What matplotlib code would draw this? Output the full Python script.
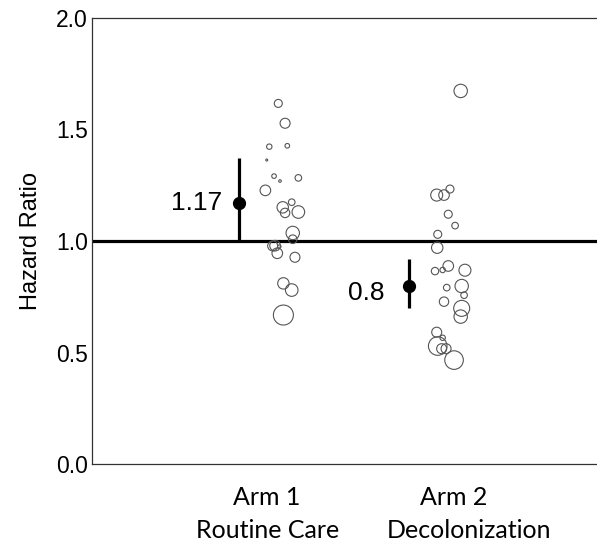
import numpy as np
import matplotlib
matplotlib.use("Agg")
import matplotlib.pyplot as plt
from matplotlib import transforms

# pooled estimates
arms = [1, 2]
hr = [1.17, 0.80]
ci_low = [1.00, 0.70]
ci_high = [1.37, 0.92]
hr_labels = ["1.17", "0.8"]

# individual hospital estimates (x is jittered position, w is relative weight)
arm1_x = [1.231, 1.271, 1.178, 1.284, 1.163, 1.206, 1.241, 1.349, 1.155, 1.310, 1.257, 1.271,
          1.349, 1.316, 1.316, 1.198, 1.212, 1.237, 1.225, 1.329, 1.261, 1.310, 1.261]
arm1_y = [1.617, 1.528, 1.423, 1.427, 1.363, 1.291, 1.269, 1.283, 1.227, 1.174, 1.151, 1.126,
          1.130, 1.036, 1.008, 0.978, 0.979, 0.975, 0.945, 0.927, 0.810, 0.780, 0.668]
arm1_w = [4.0, 5.0, 2.7, 2.3, 1.0, 2.3, 1.3, 3.3, 5.3, 3.3, 5.7, 4.7,
          6.3, 6.7, 4.3, 5.0, 5.3, 1.7, 5.3, 5.0, 5.7, 6.3, 10.0]

arm2_x = [2.304, 2.163, 2.206, 2.241, 2.231, 2.271, 2.169, 2.166, 2.153, 2.198, 2.231, 2.329,
          2.222, 2.310, 2.324, 2.206, 2.310, 2.304, 2.163, 2.198, 2.169, 2.192, 2.218, 2.265]
arm2_y = [1.673, 1.206, 1.206, 1.233, 1.120, 1.069, 1.030, 0.970, 0.865, 0.870, 0.888, 0.869,
          0.791, 0.798, 0.757, 0.728, 0.698, 0.661, 0.591, 0.566, 0.529, 0.517, 0.517, 0.466]
arm2_w = [6.7, 6.0, 5.3, 4.0, 4.0, 3.3, 4.0, 5.7, 3.7, 2.7, 5.3, 6.0,
          3.3, 6.7, 3.3, 4.7, 8.0, 6.7, 5.0, 2.7, 9.3, 5.0, 5.0, 9.3]

yticks = [0.0, 0.5, 1.0, 1.5, 2.0]

fig = plt.figure(figsize=(5.97, 5.41), dpi=100)
ax = fig.add_axes([92/597, 77/541, 1 - 92/597, 446/541])

def wsize(w):
    # weight -> marker area (points^2), radius in px ~ weight
    return (2 * np.array(w) * 0.72) ** 2

ax.axhline(1.0, color="black", lw=2.3, zorder=2)

for xs, ys, ws in [(arm1_x, arm1_y, arm1_w), (arm2_x, arm2_y, arm2_w)]:
    ax.scatter(xs, ys, s=wsize(ws), facecolors="none", edgecolors="#555555",
               linewidths=0.8, zorder=3)

for i in range(len(arms)):
    ax.plot([arms[i], arms[i]], [ci_low[i], ci_high[i]], color="black", lw=2.3,
            solid_capstyle="butt", zorder=4)
    ax.plot(arms[i], hr[i], "o", color="black", ms=8.5, zorder=5)

ax.annotate(hr_labels[0], (arms[0], hr[0]), xytext=(-12, 0), textcoords="offset points",
            ha="right", va="center", fontsize=19, family="Liberation Sans")
ax.annotate(hr_labels[1], (arms[1], hr[1]), xytext=(-18, -5), textcoords="offset points",
            ha="right", va="center", fontsize=19, family="Liberation Sans")

ax.set_xlim(0.135, 3.106)
ax.set_ylim(0, 2.0)
ax.set_xticks([])
ax.set_yticks(yticks)
ax.set_yticklabels([f"{t:.1f}" for t in yticks], fontsize=16.5, family="Liberation Sans")
ax.tick_params(axis="y", length=0, pad=3)
ax.set_ylabel("Hazard Ratio", fontsize=17, family="Liberation Sans", labelpad=10)

for sp in ["left", "top", "bottom"]:
    ax.spines[sp].set_linewidth(0.9)
    ax.spines[sp].set_color("#333333")
ax.spines["right"].set_visible(False)

trans = transforms.blended_transform_factory(ax.transData, ax.transAxes)
ax.text(1.165, -0.074, "Arm 1", transform=trans, ha="center", va="center",
        fontsize=18, family="Lato")
ax.text(1.168, -0.148, "Routine Care", transform=trans, ha="center", va="center",
        fontsize=18, family="Lato")
ax.text(2.265, -0.074, "Arm 2", transform=trans, ha="center", va="center",
        fontsize=18, family="Lato")
ax.text(2.353, -0.148, "Decolonization", transform=trans, ha="center", va="center",
        fontsize=18, family="Lato")

fig.savefig("out.png", dpi=100)
